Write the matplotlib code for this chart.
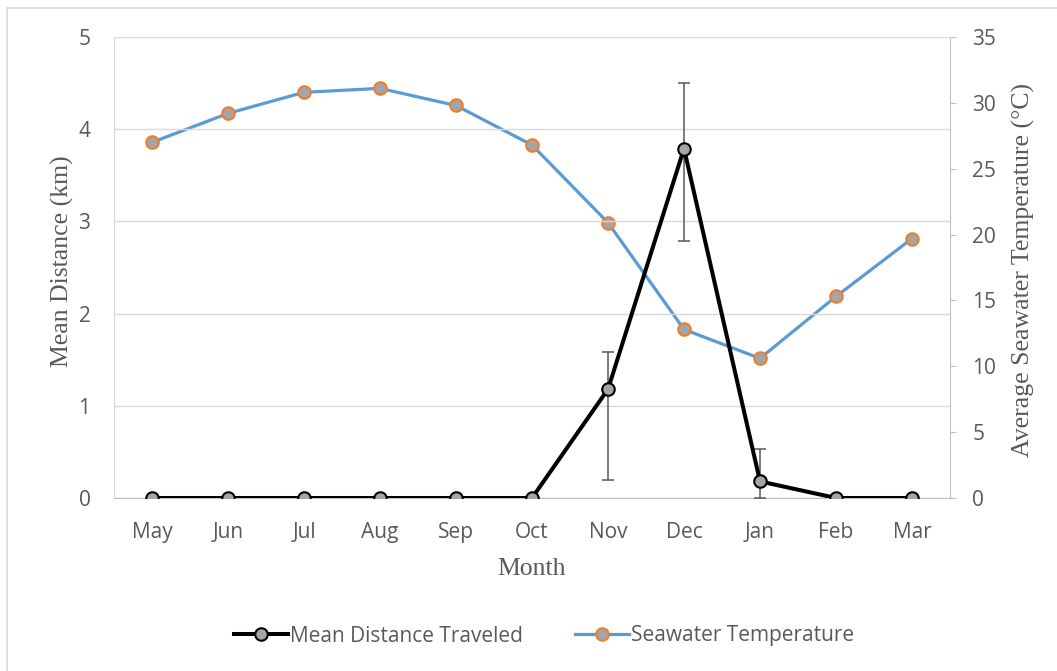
"""Mean distance traveled vs. seawater temperature, by month."""

import matplotlib

matplotlib.use("Agg")
import matplotlib.pyplot as plt
from matplotlib.lines import Line2D
from matplotlib.patches import Rectangle

MONTHS = ["May", "Jun", "Jul", "Aug", "Sep", "Oct", "Nov", "Dec", "Jan", "Feb", "Mar"]
DISTANCE = [0, 0, 0, 0, 0, 0, 1.18, 3.79, 0.18, 0, 0]
DIST_ERR_LOW = [0, 0, 0, 0, 0, 0, 0.98, 1.0, 0.18, 0, 0]
DIST_ERR_HIGH = [0, 0, 0, 0, 0, 0, 0.40, 0.71, 0.35, 0, 0]
TEMPERATURE = [27.0, 29.2, 30.8, 31.1, 29.8, 26.8, 20.9, 12.8, 10.6, 15.3, 19.7]

_BLACK = "#000000"
_BLUE = "#5B9BD5"
_ORANGE = "#ED7D31"
_MARKER = "#A5A5A5"
_TEXT = "#595959"
_GRID = "#D9D9D9"
_AXIS = "#BFBFBF"

TICK_FONT = "Open Sans"
LABEL_FONT = "Liberation Serif"
W, H = 1057, 671


def main() -> None:
    fig = plt.figure(figsize=(W / 100, H / 100), dpi=100)
    # chart border (only left/top edges fall inside the image)
    fig.patches.append(
        Rectangle((7 / W, -0.1), 1.2, 1 - 8 / H + 0.1,
                  transform=fig.transFigure, fill=False, edgecolor=_GRID, lw=1.2)
    )
    ax = fig.add_axes([114 / W, 173 / H, 836 / W, 461 / H])
    ax2 = ax.twinx()

    x = list(range(len(MONTHS)))

    ax2.plot(x, TEMPERATURE, color=_BLUE, lw=2.3, marker="o", ms=9,
             mfc=_MARKER, mec=_ORANGE, mew=1.5, zorder=3)

    ax.errorbar(x, DISTANCE, yerr=[DIST_ERR_LOW, DIST_ERR_HIGH], fmt="none",
                ecolor=_TEXT, elinewidth=1.1, capsize=4, capthick=1.1, zorder=3)
    ax.plot(x, DISTANCE, color=_BLACK, lw=2.9, marker="o", ms=9,
            mfc=_MARKER, mec=_BLACK, mew=1.5, zorder=4)

    ax.set_zorder(ax2.get_zorder() + 1)
    ax.patch.set_visible(False)

    ax.set_xlim(-0.5, len(MONTHS) - 0.5)
    ax.set_ylim(0, 5)
    ax2.set_ylim(0, 35)
    ax.set_xticks(x)
    ax.set_xticklabels(MONTHS)
    ax.set_yticks(range(0, 6))
    ax2.set_yticks(range(0, 36, 5))

    ax.grid(axis="y", color=_GRID, lw=1.0, zorder=0)
    ax.set_axisbelow(True)

    for a in (ax, ax2):
        for s in a.spines.values():
            s.set_visible(False)
    ax.spines["left"].set_visible(True)
    ax.spines["left"].set_color(_GRID)
    ax.spines["bottom"].set_visible(True)
    ax.spines["bottom"].set_color(_AXIS)
    ax2.spines["right"].set_visible(True)
    ax2.spines["right"].set_color(_AXIS)

    ax.tick_params(axis="x", length=0, pad=17.5, labelsize=15, labelcolor=_TEXT)
    ax.tick_params(axis="y", length=0, pad=17, labelsize=15, labelcolor=_TEXT)
    ax2.tick_params(axis="y", length=4, color=_AXIS, pad=12,
                    labelsize=15, labelcolor=_TEXT)
    for lab in ax.get_xticklabels() + ax.get_yticklabels() + ax2.get_yticklabels():
        lab.set_fontfamily(TICK_FONT)

    label_kw = dict(family=LABEL_FONT, fontsize=18.5, color=_TEXT,
                    ha="center", va="center")
    fig.text(532 / W, 1 - 569 / H, "Month", **label_kw)
    fig.text(62 / W, 1 - 261 / H, "Mean Distance (km)", rotation=90, **label_kw)
    fig.text(1023 / W, 1 - 270 / H, "Average Seawater Temperature (\u00b0C)",
             rotation=90, **label_kw)

    handles = [
        Line2D([], [], color=_BLACK, lw=2.9, marker="o", ms=9, mfc=_MARKER,
               mec=_BLACK, mew=1.5),
        Line2D([], [], color=_BLUE, lw=2.3, marker="o", ms=9, mfc=_MARKER,
               mec=_ORANGE, mew=1.5),
    ]
    leg = fig.legend(handles, ["Mean Distance Traveled", "Seawater Temperature"],
                     loc="center", bbox_to_anchor=(544 / W, 35 / H), ncol=2,
                     frameon=False, handlelength=2.6, handletextpad=0.1,
                     columnspacing=2.5, prop={"family": TICK_FONT, "size": 15})
    for t in leg.get_texts():
        t.set_color(_TEXT)

    fig.savefig("out.png", dpi=100)
    plt.close(fig)


if __name__ == "__main__":
    main()
